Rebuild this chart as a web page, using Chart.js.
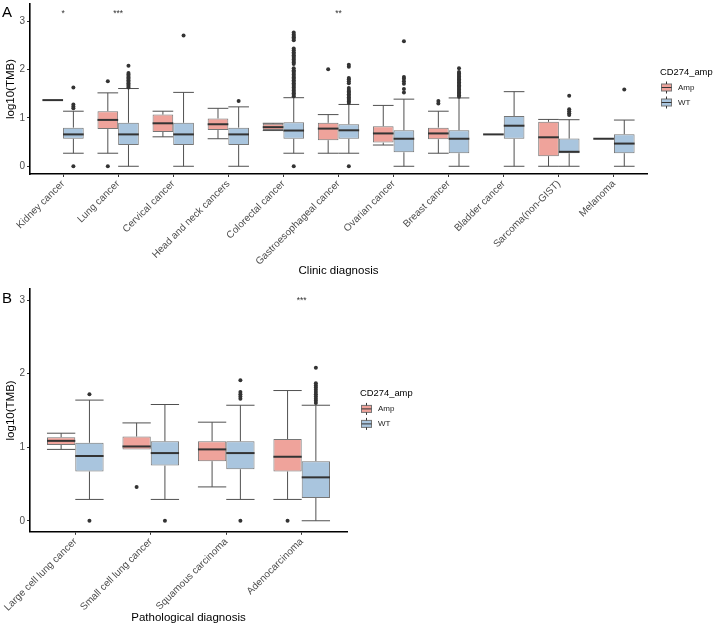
<!DOCTYPE html>
<html>
<head>
<meta charset="utf-8">
<script src="https://cdn.jsdelivr.net/npm/chart.js@4.4.0/dist/chart.umd.min.js"></script>
<style>
  html, body { margin: 0; padding: 0; background: #fff; }
  canvas { position: absolute; left: 0; }
  #chartA { top: 0; }
  #chartB { top: 285px; }
</style>
</head>
<body>
<canvas id="chartA" width="713" height="285"></canvas>
<canvas id="chartB" width="713" height="342"></canvas>
<script>
// ---- panel A : clinic diagnosis ----
const clinicLabels = ["Kidney cancer", "Lung cancer", "Cervical cancer", "Head and neck cancers",
  "Colorectal cancer", "Gastroesophageal cancer", "Ovarian cancer", "Breast cancer",
  "Bladder cancer", "Sarcoma(non-GIST)", "Melanoma"];
// [lower whisker, q1, median, q3, upper whisker]
const clinicAmp = [
  [1.37, 1.37, 1.37, 1.37, 1.37],
  [0.27, 0.77, 0.96, 1.14, 1.52],
  [0.61, 0.71, 0.89, 1.07, 1.14],
  [0.57, 0.75, 0.87, 0.99, 1.20],
  [0.74, 0.75, 0.81, 0.88, 0.89],
  [0.27, 0.54, 0.78, 0.90, 1.07],
  [0.44, 0.49, 0.68, 0.83, 1.26],
  [0.27, 0.56, 0.68, 0.80, 1.14],
  [0.66, 0.66, 0.66, 0.66, 0.66],
  [0.00, 0.21, 0.60, 0.92, 0.97],
  [0.57, 0.57, 0.57, 0.57, 0.57]
];
const clinicWT = [
  [0.27, 0.57, 0.66, 0.80, 1.14],
  [0.00, 0.44, 0.66, 0.90, 1.61],
  [0.00, 0.44, 0.66, 0.90, 1.53],
  [0.00, 0.44, 0.66, 0.80, 1.23],
  [0.27, 0.57, 0.74, 0.91, 1.42],
  [0.27, 0.57, 0.745, 0.87, 1.28],
  [0.00, 0.29, 0.57, 0.745, 1.39],
  [0.00, 0.27, 0.57, 0.745, 1.415],
  [0.00, 0.57, 0.84, 1.04, 1.545],
  [0.00, 0.27, 0.30, 0.574, 0.964],
  [0.00, 0.27, 0.47, 0.663, 0.957]
];
const clinicAmpOut = [
  [], [1.76, 0], [], [], [], [2.01], [], [1.35, 1.30], [], [], []
];
const clinicWTOut = [
  [1.63, 1.28, 1.24, 1.20, 0],
  [2.08, 1.93, 1.90, 1.87, 1.84, 1.81, 1.78, 1.75, 1.72, 1.69, 1.66, 1.63],
  [2.71],
  [1.35],
  [0, 1.45, 1.48, 1.51, 1.54, 1.57, 1.60, 1.63, 1.66, 1.69, 1.72, 1.75, 1.78, 1.81, 1.84,
   1.87, 1.90, 1.93, 1.96, 1.99, 2.03, 2.12, 2.15, 2.18, 2.21, 2.24, 2.27, 2.30, 2.33,
   2.36, 2.40, 2.44, 2.61, 2.64, 2.67, 2.70, 2.73, 2.77],
  [0, 1.31, 1.34, 1.37, 1.40, 1.43, 1.46, 1.49, 1.52, 1.55, 1.58, 1.62, 1.72, 1.76,
   1.80, 1.83, 2.06, 2.10],
  [2.59, 1.85, 1.81, 1.76, 1.71, 1.60, 1.53],
  [2.03, 1.95, 1.92, 1.89, 1.86, 1.83, 1.80, 1.77, 1.74, 1.71, 1.68, 1.65, 1.62, 1.59,
   1.56, 1.53, 1.50, 1.47, 1.44],
  [],
  [1.46, 1.18, 1.14, 1.10, 1.06],
  [1.59]
];
const clinicSig = ["*", "***", "", "", "", "**", "", "", "", "", ""];

// ---- panel B : pathological diagnosis ----
const pathoLabels = ["Large cell lung cancer", "Small cell lung cancer", "Squamous carcinoma", "Adenocarcinoma"];
const pathoAmp = [
  [0.97, 1.03, 1.086, 1.135, 1.19],
  [0.97, 0.97, 1.01, 1.145, 1.33],
  [0.46, 0.81, 0.97, 1.08, 1.34],
  [0.29, 0.67, 0.87, 1.11, 1.77]
];
const pathoWT = [
  [0.29, 0.67, 0.88, 1.06, 1.64],
  [0.29, 0.75, 0.92, 1.08, 1.58],
  [0.29, 0.70, 0.92, 1.08, 1.57],
  [0.00, 0.31, 0.59, 0.81, 1.57]
];
const pathoAmpOut = [[], [0.46], [], [0]];
const pathoWTOut = [
  [1.72, 0],
  [0],
  [1.91, 1.75, 1.72, 1.69, 1.66, 0],
  [2.08, 1.87, 1.84, 1.81, 1.78, 1.75, 1.72, 1.69, 1.66, 1.63, 1.60]
];
const pathoSig = ["", "", "", "***"];

const yTickValues = [0, 1, 2, 3];
const groupNames = ["Amp", "WT"];

const AMP_FILL = "#efa39b";
const WT_FILL = "#a9c5de";
const BOX_LINE = "#767676";
const DODGE = 0.75 / 4;
const FONT = "'Liberation Sans', Arial, sans-serif";

Chart.defaults.font.family = FONT;
Chart.defaults.color = "#4d4d4d";

// whiskers behind boxes, medians on top
const boxParts = {
  id: "boxParts",
  beforeDatasetsDraw(chart) {
    const ctx = chart.ctx;
    const y = chart.scales.y;
    chart.data.datasets.forEach((ds, di) => {
      if (!ds.stats) return;
      chart.getDatasetMeta(di).data.forEach((bar, i) => {
        const [lo, q1, , q3, hi] = ds.stats[i];
        const half = bar.width / 2;
        ctx.save();
        ctx.strokeStyle = "#505050";
        ctx.lineWidth = 1;
        ctx.beginPath();
        if (hi > q3) {
          ctx.moveTo(bar.x, y.getPixelForValue(q3));
          ctx.lineTo(bar.x, y.getPixelForValue(hi));
          ctx.moveTo(bar.x - half, y.getPixelForValue(hi));
          ctx.lineTo(bar.x + half, y.getPixelForValue(hi));
        }
        if (lo < q1) {
          ctx.moveTo(bar.x, y.getPixelForValue(q1));
          ctx.lineTo(bar.x, y.getPixelForValue(lo));
          ctx.moveTo(bar.x - half, y.getPixelForValue(lo));
          ctx.lineTo(bar.x + half, y.getPixelForValue(lo));
        }
        ctx.stroke();
        ctx.restore();
      });
    });
  },
  afterDatasetsDraw(chart) {
    const ctx = chart.ctx;
    const y = chart.scales.y;
    chart.data.datasets.forEach((ds, di) => {
      if (!ds.stats) return;
      chart.getDatasetMeta(di).data.forEach((bar, i) => {
        const py = y.getPixelForValue(ds.stats[i][2]);
        ctx.save();
        ctx.strokeStyle = "#333";
        ctx.lineWidth = 2;
        ctx.beginPath();
        ctx.moveTo(bar.x - bar.width / 2, py);
        ctx.lineTo(bar.x + bar.width / 2, py);
        ctx.stroke();
        ctx.restore();
      });
    });
  }
};

// significance marks, panel letter and legend
const extras = {
  id: "extras",
  afterDraw(chart, args, opts) {
    const ctx = chart.ctx;
    const x = chart.scales.x, y = chart.scales.y;
    const area = chart.chartArea;
    ctx.save();
    ctx.fillStyle = "#333";
    ctx.font = "8.5px " + FONT;
    ctx.textAlign = "center";
    ctx.textBaseline = "middle";
    opts.sig.forEach((s, i) => {
      if (s) ctx.fillText(s, x.getPixelForValue(i), y.getPixelForValue(opts.sigY) + 2);
    });

    ctx.fillStyle = "#000";
    ctx.font = "15px " + FONT;
    ctx.textAlign = "left";
    ctx.textBaseline = "alphabetic";
    ctx.fillText(opts.letter, 2, opts.letterY);

    // legend
    const lx = area.right + 13;
    const cy = (area.top + area.bottom) / 2;
    ctx.font = "9.4px " + FONT;
    ctx.fillStyle = "#000";
    ctx.textBaseline = "middle";
    ctx.fillText("CD274_amp", lx, cy - 17);
    ctx.font = "8px " + FONT;
    [AMP_FILL, WT_FILL].forEach((col, k) => {
      const ky = cy - 1.5 + k * 15;
      ctx.fillStyle = col;
      ctx.fillRect(lx + 1, ky - 3.5, 11, 7);
      ctx.strokeStyle = BOX_LINE;
      ctx.lineWidth = 1;
      ctx.strokeRect(lx + 1.5, ky - 3.5, 10, 7);
      ctx.strokeStyle = "#333";
      ctx.beginPath();
      ctx.moveTo(lx + 1.5, ky); ctx.lineTo(lx + 11.5, ky);
      ctx.moveTo(lx + 6.5, ky - 3.5); ctx.lineTo(lx + 6.5, ky - 6);
      ctx.moveTo(lx + 6.5, ky + 3.5); ctx.lineTo(lx + 6.5, ky + 6);
      ctx.stroke();
      ctx.fillStyle = "#222";
      ctx.fillText(groupNames[k], lx + 18, ky);
    });
    ctx.restore();
  }
};

function makeBoxChart(id, p) {
  const box = (stats, fill, name) => ({
    type: "bar",
    label: name,
    stats: stats,
    data: stats.map((s, i) => ({ x: i, y: [s[1], s[3]] })),
    backgroundColor: fill,
    borderColor: BOX_LINE,
    borderWidth: 1,
    borderSkipped: false,
    categoryPercentage: 0.75,
    barPercentage: 1.0,
    order: 2
  });
  const outliers = (lists, off) => ({
    type: "scatter",
    data: lists.flatMap((vals, i) => vals.map(v => ({ x: i + off, y: v }))),
    pointRadius: 2,
    pointBackgroundColor: "#333",
    pointBorderWidth: 0,
    order: 1
  });

  return new Chart(document.getElementById(id), {
    type: "bar",
    data: {
      datasets: [
        box(p.amp, AMP_FILL, groupNames[0]),
        box(p.wt, WT_FILL, groupNames[1]),
        outliers(p.ampOut, -DODGE),
        outliers(p.wtOut, DODGE)
      ]
    },
    options: {
      responsive: false,
      animation: false,
      events: [],
      layout: { padding: { left: 0, right: p.padRight, top: p.padTop, bottom: 0 } },
      plugins: {
        legend: { display: false },
        tooltip: { enabled: false },
        extras: { sig: p.sig, sigY: p.sigY, letter: p.letter, letterY: p.letterY }
      },
      scales: {
        x: {
          type: "linear",
          offset: false,
          min: -0.6,
          max: p.labels.length - 0.4,
          afterBuildTicks: s => { s.ticks = p.labels.map((_, i) => ({ value: i })); },
          afterFit: s => {
            s.height = p.xHeight;
            s.paddingLeft = 0;
            s.paddingRight = 0;
          },
          ticks: {
            autoSkip: false,
            minRotation: 45,
            maxRotation: 45,
            padding: 1,
            color: "#4d4d4d",
            font: { size: 10 },
            callback: v => p.labels[v]
          },
          grid: { offset: false, drawOnChartArea: false, drawTicks: true, tickLength: 3, color: "#333" },
          border: { display: true, color: "#000", width: 1.6 },
          title: {
            display: true,
            text: p.title,
            color: "#000",
            font: { size: 11.5 },
            padding: { top: 0, bottom: p.titlePad }
          }
        },
        y: {
          type: "linear",
          min: p.yMin,
          max: p.yMax,
          afterBuildTicks: s => { s.ticks = yTickValues.map(v => ({ value: v })); },
          afterFit: s => {
            s.width = 30;
            s.paddingTop = 0;
            s.paddingBottom = 0;
          },
          ticks: { padding: 2, color: "#4d4d4d", font: { size: 10 } },
          grid: { drawOnChartArea: false, drawTicks: true, tickLength: 3, color: "#333" },
          border: { display: true, color: "#000", width: 1.6 },
          title: {
            display: true,
            text: "log10(TMB)",
            color: "#000",
            font: { size: 11.5 },
            padding: { top: 4, bottom: 0 }
          }
        }
      }
    },
    plugins: [boxParts, extras]
  });
}

makeBoxChart("chartA", {
  labels: clinicLabels, amp: clinicAmp, wt: clinicWT, ampOut: clinicAmpOut, wtOut: clinicWTOut,
  sig: clinicSig, sigY: 3.2, yMin: -0.16, yMax: 3.36,
  title: "Clinic diagnosis", letter: "A", letterY: 17,
  padRight: 66, padTop: 2, xHeight: 111, titlePad: 6.8
});

makeBoxChart("chartB", {
  labels: pathoLabels, amp: pathoAmp, wt: pathoWT, ampOut: pathoAmpOut, wtOut: pathoWTOut,
  sig: pathoSig, sigY: 3.02, yMin: -0.15, yMax: 3.15,
  title: "Pathological diagnosis", letter: "B", letterY: 18,
  padRight: 366, padTop: 2.6, xHeight: 95.2, titlePad: 1.8
});
</script>
</body>
</html>
